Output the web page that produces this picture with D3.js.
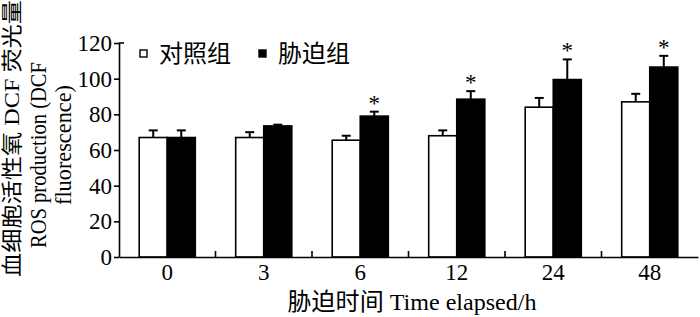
<!DOCTYPE html>
<html>
<head>
<meta charset="utf-8">
<script src="https://cdn.jsdelivr.net/npm/d3@7"></script>
<style>
  body { margin: 0; background: #fff; }
  svg text { font-family: "Liberation Serif", "Times New Roman", "Noto Sans CJK SC", serif; fill: #000; }
</style>
</head>
<body>
<div id="chart"></div>
<script>
// Grouped bars: control vs stressed, DCF fluorescence over time, with upward SE bars.

const TIMES      = ["0", "3", "6", "12", "24", "48"];
const CTRL       = [67, 67, 65.5, 68, 84, 87];
const CTRL_ERR   = [4, 3, 2.5, 3, 5.2, 4.5];
const STRESS     = [67, 73.5, 79, 88.5, 99.5, 106.5];
const STRESS_ERR = [4, 0.7, 2.5, 4.5, 11.3, 6.3];
const SIG        = [false, false, true, true, true, true];
const Y_TICKS    = [0, 20, 40, 60, 80, 100, 120];
const SERIES     = [
  { key: "ctrl",   label: "对照组", fill: "#fff" },
  { key: "stress", label: "胁迫组", fill: "#000" },
];
const Y_TITLE = ["血细胞活性氧 DCF 荧光量", "ROS production (DCF", "fluorescence)"];
const X_TITLE = "胁迫时间 Time elapsed/h";

const W = 700, H = 317;
const margin = { top: 43, right: 2, bottom: 60, left: 119 };
const innerW = W - margin.left - margin.right;
const innerH = H - margin.top - margin.bottom;

const rows = TIMES.map((t, i) => ({
  t,
  sig: SIG[i],
  vals: [
    { key: "ctrl",   v: CTRL[i],   e: CTRL_ERR[i] },
    { key: "stress", v: STRESS[i], e: STRESS_ERR[i] },
  ],
}));

const x0 = d3.scaleBand().domain(TIMES).range([0, innerW]).padding(0);
const x1 = d3.scaleBand().domain(SERIES.map(s => s.key))
  .range([0, x0.bandwidth()]).paddingInner(0).paddingOuter(0.72);
const y  = d3.scaleLinear().domain([0, 120]).range([innerH, 0]);
const fillOf = k => SERIES.find(s => s.key === k).fill;

const svg = d3.select("#chart").append("svg").attr("width", W).attr("height", H);
const g   = svg.append("g").attr("transform", `translate(${margin.left},${margin.top})`);

// ── Bars ─────────────────────────────────────────────────────────────────────

const grp = g.selectAll("g.grp").data(rows).join("g")
  .attr("class", "grp")
  .attr("transform", d => `translate(${x0(d.t)},0)`);

grp.selectAll("line.err").data(d => d.vals).join("line")
  .attr("class", "err")
  .attr("x1", d => x1(d.key) + x1.bandwidth() / 2).attr("x2", d => x1(d.key) + x1.bandwidth() / 2)
  .attr("y1", d => y(d.v)).attr("y2", d => y(d.v + d.e))
  .attr("stroke", "#000").attr("stroke-width", 2);

grp.selectAll("line.cap").data(d => d.vals).join("line")
  .attr("class", "cap")
  .attr("x1", d => x1(d.key) + x1.bandwidth() / 2 - 4.5).attr("x2", d => x1(d.key) + x1.bandwidth() / 2 + 4.5)
  .attr("y1", d => y(d.v + d.e)).attr("y2", d => y(d.v + d.e))
  .attr("stroke", "#000").attr("stroke-width", 2);

grp.selectAll("rect").data(d => d.vals).join("rect")
  .attr("x", d => x1(d.key)).attr("width", x1.bandwidth())
  .attr("y", d => y(d.v)).attr("height", d => innerH - y(d.v))
  .attr("fill", d => fillOf(d.key)).attr("stroke", "#000").attr("stroke-width", 1.6);

grp.filter(d => d.sig).append("text")
  .attr("x", x1("stress") + x1.bandwidth() / 2)
  .attr("y", d => y(d.vals[1].v + d.vals[1].e) - 1)
  .attr("text-anchor", "middle").style("font-size", "23px")
  .text("*");

// ── Axes ─────────────────────────────────────────────────────────────────────

g.append("g")
  .call(d3.axisLeft(y).tickValues(Y_TICKS).tickSizeInner(5).tickSizeOuter(0).tickPadding(2))
  .call(ax => ax.selectAll("path, line").attr("stroke", "#000").attr("stroke-width", 1.6))
  .selectAll("text").style("font-size", "23px").style("font-family", "Liberation Serif");

// short inward stub at the top of the value axis
g.append("line")
  .attr("x1", 0).attr("x2", 5).attr("y1", y(120)).attr("y2", y(120))
  .attr("stroke", "#000").attr("stroke-width", 1.6);

g.append("g")
  .attr("transform", `translate(0,${innerH})`)
  .call(d3.axisBottom(x0).tickSize(0).tickPadding(7))
  .call(ax => ax.select(".domain").attr("stroke", "#000").attr("stroke-width", 1.6))
  .selectAll("text").style("font-size", "23px").style("font-family", "Liberation Serif");

// group-boundary ticks pointing up into the plot
g.append("g").selectAll("line")
  .data(TIMES.slice(1))
  .join("line")
    .attr("x1", d => x0(d)).attr("x2", d => x0(d))
    .attr("y1", innerH).attr("y2", innerH - 6)
    .attr("stroke", "#000").attr("stroke-width", 1.6);

// ── Titles ───────────────────────────────────────────────────────────────────

svg.append("text")
  .attr("x", 412).attr("y", 310)
  .attr("text-anchor", "middle").style("font-size", "24px")
  .attr("textLength", 249).attr("lengthAdjust", "spacingAndGlyphs")
  .text(X_TITLE);

const Y_TITLE_POS = [
  { x: 12, cy: 138.5, len: 277, fs: 21 },
  { x: 38, cy: 155,   len: 186, fs: 23 },
  { x: 63, cy: 145,   len: 120, fs: 23 },
];
Y_TITLE.forEach((line, i) => {
  const p = Y_TITLE_POS[i];
  svg.append("text")
    .attr("transform", `translate(${p.x},${p.cy}) rotate(-90)`)
    .attr("text-anchor", "middle").attr("dominant-baseline", "central")
    .attr("textLength", p.len).attr("lengthAdjust", "spacingAndGlyphs")
    .style("font-size", `${p.fs}px`)
    .text(line);
});

// ── Legend ───────────────────────────────────────────────────────────────────

const LEGEND_X = [140, 259];
const legend = svg.append("g").selectAll("g").data(SERIES).join("g")
  .attr("transform", (d, i) => `translate(${LEGEND_X[i]},50)`);
legend.append("rect")
  .attr("width", 7).attr("height", 7)
  .attr("fill", d => d.fill).attr("stroke", "#000").attr("stroke-width", 1.4);
legend.append("text")
  .attr("x", 19).attr("y", 4).attr("dominant-baseline", "central")
  .style("font-size", "24px")
  .text(d => d.label);
</script>
</body>
</html>
